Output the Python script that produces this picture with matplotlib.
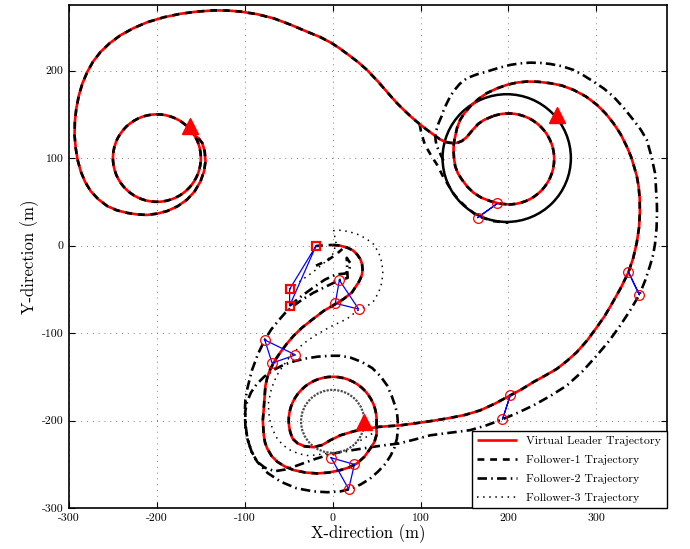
import matplotlib
matplotlib.use('Agg')
import matplotlib.pyplot as plt
from matplotlib.patches import Arc, Circle
from matplotlib.lines import Line2D

plt.rcParams['font.family'] = ['cmr10', 'DejaVu Serif']
plt.rcParams['axes.unicode_minus'] = False

# ---- virtual leader (m) ----
lead_a = [(0, 0.7), (8, 0), (16.4, -2.3), (23, -5.5), (27.7, -10), (31.5, -15.5), (33.4, -21.3),
          (34, -27), (33.4, -32.7), (31.8, -37.5), (29.5, -42), (22, -53.5), (12.5, -61),
          (3, -67), (-10, -74.5), (-25, -86), (-35, -94), (-44.3, -103), (-52, -112),
          (-59.4, -121.9), (-65.5, -131), (-70.8, -140.9), (-74.2, -150), (-76.5, -160),
          (-78.4, -186.4), (-79.5, -200), (-78.4, -216.9), (-77, -225), (-74.5, -232),
          (-69.5, -240.5), (-63.2, -247), (-54.5, -252.5), (-44.3, -256.7), (-31, -259.5),
          (-17.7, -260.5), (-4.5, -259.5), (8.8, -256.7), (19, -253.5), (27.7, -249),
          (36, -241.5), (42.8, -232), (47.5, -224.5), (50, -216), (49.6, -206.1)]
lead_b = [(-45.3, -221.1), (-40, -226), (-32, -229.5), (-22, -230.5), (-12, -228),
          (-2.6, -222.5), (8.8, -216.9), (24, -212.3), (39, -209.2), (52.3, -207.3),
          (77, -205.5), (99.7, -202.4), (116, -200), (133.7, -197), (151, -193.5),
          (167.8, -188.4), (185, -180.5), (202, -171.3), (215.5, -164), (228.4, -156),
          (242, -148.5), (255, -141), (267, -131.5), (277.7, -121.9), (289.5, -108.5),
          (300.5, -93.4), (309.5, -80.5), (317.5, -66.9), (327.5, -49), (336.4, -30.8),
          (342, -14), (346, 3.4), (348.6, 21), (349.5, 38), (349.3, 54), (348, 68),
          (346, 79.5), (343, 90), (339.5, 101.5), (334.5, 113.4), (327.5, 127.5),
          (319.3, 140), (310.5, 151), (300.5, 161), (288, 170.5), (273.9, 178), (260.5, 183),
          (247.4, 185.6), (234, 187.2), (221, 187.5), (209.5, 186.3), (198.2, 183.7),
          (186.5, 179.5), (175.5, 174.3), (165.5, 167.3), (156.5, 159), (150, 151.5),
          (145, 143.7), (141.5, 134.5), (139.4, 124.8), (137.8, 117), (137.5, 109.7),
          (138, 100), (139.4, 90.7), (142.5, 82.5), (147, 75.5), (153, 67.5), (160.2, 60.4),
          (169, 54.8), (179.2, 50.8), (189.5, 48), (200, 47)]
lead_c = [(182.2, 147.9), (172, 143.5), (165.5, 139), (160, 133), (152, 123.5), (147, 119.5),
          (142, 117.5), (137.5, 117.1), (133, 117.5), (128, 118.5), (121.5, 121.8),
          (114.8, 126.8), (107, 132.5), (99.7, 138.2), (90, 146.5), (80.7, 155.2),
          (72.5, 163.5), (65, 172), (52, 187), (39, 200.8), (28.5, 210), (18, 218),
          (8.5, 225), (-0.7, 231.2), (-14.5, 238.5), (-29, 244.4), (-48, 252.5), (-67, 259.7),
          (-86, 264.5), (-105, 267.5), (-120, 268.7), (-135.2, 268.8), (-154, 267.5),
          (-173, 265), (-192, 261), (-211, 255.3), (-226.5, 248.6), (-241.3, 240.5),
          (-253.5, 231.5), (-264, 221.5), (-272.5, 210.5), (-279, 198.9), (-284.5, 186),
          (-288.6, 172.3), (-291.6, 157.3), (-293.3, 142), (-293.7, 126.5), (-292.4, 111.6),
          (-290.2, 98), (-286.7, 85), (-281.8, 73), (-275.3, 62.2), (-266.5, 52.8),
          (-256.4, 45.1), (-245.5, 40.3), (-233.6, 37.3), (-222.4, 35.6), (-211, 35),
          (-199.6, 36.5), (-188.2, 39.5), (-176.3, 45), (-165.5, 52.7), (-157, 62),
          (-150.3, 73.6), (-146.3, 85), (-144.7, 96.4), (-145.6, 107.5), (-148.4, 117.3),
          (-152.5, 122.5), (-157.6, 126.5)]
# circling parts: centre x, centre y, radius, start angle, end angle
lead_arcs = [(0, -200, 50, -7, 205), (200, 99, 52, 270, 470),
             (-200, 100, 50, 32, 230), (-200, 100, 50, 230, 410)]

# ---- followers ----
f1_head = [(-19, -0.5), (-9, 0.3), (0, 0.7)]
f1_extra = [[(-19, -23), (-6, -17), (4, -10), (11, -4)],
            [(99, 138), (101, 128), (105, 115), (112, 103), (119, 92), (125, 80), (131, 70),
             (137, 60), (144, 51.5), (152, 44), (164, 34), (182, 28), (200, 26)]]
f2_path = [(-49, -68.8), (-35, -57.4), (-22, -48), (-9, -39), (4, -33), (14, -32), (19, -28),
           (20, -20), (16, -14), (17, -37), (7.6, -39.5), (-8, -47), (-22, -54), (-35, -62),
           (-46, -70), (-54, -77), (-61, -85), (-70, -96), (-77.3, -107.9), (-85, -124),
           (-92, -143), (-97, -163), (-99.3, -176), (-100, -190), (-99.3, -206), (-97, -221),
           (-92.5, -235), (-86, -247), (-74, -260), (-59, -270), (-41, -277.5), (-22, -281),
           (-6, -282), (9, -281), (21, -278), (32, -273), (42.5, -266.5), (52, -258),
           (60, -249.5), (66, -240), (70.5, -230.5), (73, -221), (74.3, -210.5), (74, -200),
           (73.2, -191.5), (71, -183), (67, -171.5), (62, -160), (54.5, -149.5), (45, -140),
           (33, -133), (20, -128), (8.5, -126), (-3, -126), (-17, -127), (-30, -129),
           (-43, -132), (-55, -136), (-67, -142), (-78, -150), (-86.5, -158.5), (-93, -168),
           (-97.5, -179), (-99.5, -190), (-99, -206), (-97, -221), (-92.5, -235), (-86, -247),
           (-77, -254), (-66, -258), (-54, -256), (-42, -252), (-31, -248), (-20, -244),
           (-5.5, -239.5), (9, -236), (28, -233), (46.6, -230), (61, -228), (75, -226.3),
           (93, -221.8), (111, -216.9), (133, -214), (156.5, -211), (175, -205.5),
           (193.2, -198.6), (211, -191), (228.4, -182.7), (247.5, -172), (266.4, -160),
           (284, -144), (300.5, -125.7), (314.5, -109), (327, -91.6), (338.5, -74),
           (348.9, -56.3), (355.5, -40), (361, -23.2), (364.5, -11), (366.7, 1.5), (368.5, 20),
           (369, 38), (368.8, 50), (368, 62), (367.5, 72), (366.7, 83), (362.5, 102.5),
           (357.3, 121), (350.5, 132.5), (342, 143.8), (331, 157.5), (319.3, 170.4),
           (308.5, 179.5), (296.6, 187.5), (285.5, 194.5), (273.9, 200.8), (261, 205),
           (247.4, 207.6), (236, 208.8), (224.7, 209.1), (213.5, 208.3), (202, 206.5),
           (188.5, 203), (175.5, 198.9), (163.5, 195.5), (152.7, 191.3), (144.5, 184.8),
           (138, 177), (133.5, 170), (130, 163), (126.5, 155.5), (124, 148), (120.5, 140),
           (118, 132), (116.8, 126), (117, 121), (118.3, 114), (121, 108), (126, 97)]
f3_path = [(-49, -49.8), (-36, -40), (-22, -30), (-10, -20), (0, -10), (4, 2), (1, 17),
           (8, 17.5), (15, 16.5), (21.5, 15), (28, 13), (38, 8), (46.6, 1.5), (52.5, -8.5),
           (56, -19.4), (57, -31), (56, -42), (52.5, -53), (47, -63), (39, -69.5), (30, -73),
           (23, -78.5), (16, -84), (6.5, -88.5), (-3, -93), (-12.5, -98.5), (-22, -104),
           (-31, -110.5), (-40, -118), (-48.5, -127), (-56, -137), (-62, -146), (-67, -156),
           (-70.5, -167), (-73, -179), (-72.8, -190.5), (-71, -202), (-67.5, -212),
           (-63, -221), (-56, -228.5), (-48, -234), (-38.5, -238), (-29, -240),
           (-19.5, -239.5), (-10, -238), (5, -236.5)]
f3_exit = [(25.5, -226.5), (38, -219), (52, -211)]
loop_rings = [(198, 100, 73), (0, -201, 36)]   # repeated circling, drawn as rings

# formation snapshots (red squares = start, circles later)
snap_start = [(-19, -0.5), (-49, -49.8), (-49, -68.8)]
snaps = [[(7.6, -39.5), (3, -66), (29.5, -72.6)],
         [(-77.3, -107.9), (-68.9, -134.4), (-42.4, -125)],
         [(-1.8, -242.6), (24.7, -250.2), (18.2, -278.4)],
         [(202, -171.3), (193.2, -198.6)],
         [(336.4, -30), (348.9, -56.3)],
         [(187.5, 48.2), (164.8, 31.9)]]
targets = [(-162.8, 136.2), (255.3, 149.5), (36, -201.6)]

xticks = [-300, -200, -100, 0, 100, 200, 300]
yticks = [-300, -200, -100, 0, 100, 200]

RED = dict(color='red', lw=1.9, solid_capstyle='butt', solid_joinstyle='round')
DASH = (0, (2.6, 2.2))
DASHDOT = (0, (3.6, 1.6, 0.6, 1.6))
DOT = (0, (1, 3))


def xy(pts):
    return [p[0] for p in pts], [p[1] for p in pts]


fig = plt.figure(figsize=(6.9, 5.49), dpi=100)
ax = fig.add_axes([0.1, 0.0747, 0.8662, 0.9162])

# followers 2 and 3 underneath
ax.plot(*xy(f2_path), color='k', lw=1.9, ls=DASHDOT, zorder=2)
ax.plot(*xy(f3_path), color='k', lw=1.1, ls=DOT, zorder=2)
ax.plot(*xy(f3_exit), color='k', lw=1.1, ls=DOT, zorder=2)
ax.add_patch(Circle(loop_rings[0][:2], loop_rings[0][2], fill=False, ec='k', lw=1.8, zorder=2))
ax.add_patch(Circle(loop_rings[1][:2], loop_rings[1][2], fill=False, ec='0.3', lw=1.6,
                    ls=(0, (1, 0.6)), zorder=2))

# leader (red) with follower-1 (dashed) on top
for seg in (lead_a, lead_b, lead_c):
    ax.plot(*xy(seg), zorder=3, **RED)
    ax.plot(*xy(seg), color='k', lw=1.9, ls=DASH, zorder=4)
for c in lead_arcs:
    ax.add_patch(Arc(c[:2], 2 * c[2], 2 * c[2], theta1=c[3], theta2=c[4],
                     ec='red', lw=1.9, zorder=3))
    ax.add_patch(Arc(c[:2], 2 * c[2], 2 * c[2], theta1=c[3], theta2=c[4],
                     ec='k', lw=1.9, ls=DASH, zorder=4))
ax.plot(*xy(f1_head), color='k', lw=1.9, ls=DASH, zorder=4)
for seg in f1_extra:
    ax.plot(*xy(seg), color='k', lw=1.9, ls=DASH, zorder=2)

# formation snapshots
sx, sy = xy(snap_start + snap_start[:1])
ax.plot(sx, sy, color='b', lw=0.9, zorder=5)
ax.plot(sx[:-1], sy[:-1], ls='none', marker='s', ms=6, mfc='none', mec='red', mew=1.6, zorder=6)
for s in snaps:
    px, py = xy(s + s[:1])
    ax.plot(px, py, color='b', lw=0.9, zorder=5)
    ax.plot(px[:-1], py[:-1], ls='none', marker='o', ms=7, mfc='none', mec='red', mew=0.9,
            zorder=6)

tx, ty = xy(targets)
ax.plot(tx, ty, ls='none', marker='^', ms=12, color='red', mec='red', zorder=7)

ax.set_xlim(-300, 380)
ax.set_ylim(-300, 275)
ax.set_xticks(xticks)
ax.set_xticklabels([str(v) for v in xticks])
ax.set_yticks(yticks)
ax.set_yticklabels([str(v) for v in yticks])
ax.tick_params(direction='in', top=True, right=True, length=4, width=0.8, labelsize=8.5,
               pad=4)
ax.grid(True, ls=(0, (1, 5)), color='0.5', lw=0.7)
ax.set_axisbelow(True)
for sp in ax.spines.values():
    sp.set_linewidth(1.2)
ax.set_xlabel('X-direction (m)', fontsize=12, labelpad=1)
ax.set_ylabel('Y-direction (m)', fontsize=12, labelpad=2)

handles = [Line2D([], [], **RED),
           Line2D([], [], color='k', lw=1.9, ls=DASH),
           Line2D([], [], color='k', lw=1.9, ls=DASHDOT),
           Line2D([], [], color='k', lw=1.1, ls=DOT)]
labels = ['Virtual Leader Trajectory', 'Follower-1 Trajectory',
          'Follower-2 Trajectory', 'Follower-3 Trajectory']
leg = ax.legend(handles, labels, loc='lower right', fontsize=8.5, handlelength=3.4,
                handletextpad=0.8, labelspacing=0.72, borderaxespad=0, fancybox=False,
                framealpha=1, borderpad=0.45)
leg.get_frame().set_edgecolor('k')
leg.get_frame().set_linewidth(1.0)
leg.set_zorder(10)

fig.savefig('out.png', dpi=100)
